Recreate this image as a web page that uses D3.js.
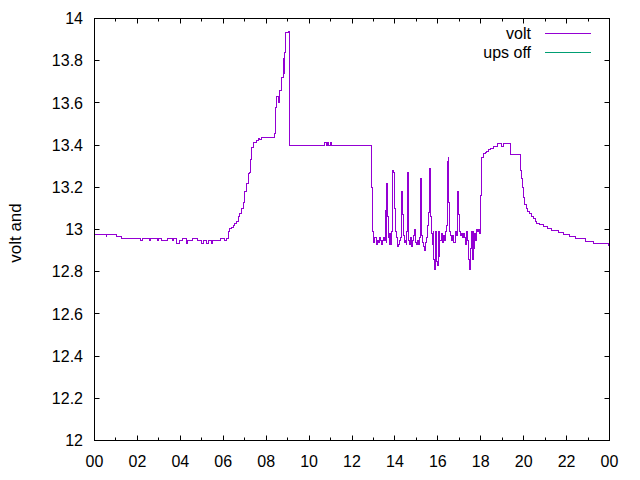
<!DOCTYPE html>
<html>
<head>
<meta charset="utf-8">
<script src="https://cdn.jsdelivr.net/npm/d3@7"></script>
<style>
  body { margin: 0; background: #fff; }
  svg text { font-family: "Liberation Sans", Arial, sans-serif; font-size: 16px; fill: #000; }
</style>
</head>
<body>
<div id="chart"></div>
<script>
// volt series, hour of day vs volts (sampled, held until next sample)
var hours = [
  0, 0.54, 0.58, 1.01, 1.28, 2.13, 2.23, 2.57, 2.61, 2.93, 2.97, 3.14, 3.38, 3.63, 3.69, 3.84, 3.94,
  4.09, 4.28, 4.33, 4.56, 4.78, 4.98, 5.06, 5.21, 5.29, 5.45, 5.52, 5.88, 6.07, 6.15, 6.23, 6.30,
  6.38, 6.46, 6.53, 6.61, 6.69, 6.77, 6.85, 6.93, 7.00, 7.08, 7.16, 7.22, 7.27, 7.32, 7.39, 7.55,
  7.65, 7.70, 7.78, 8.37, 8.44, 8.48, 8.59, 8.64, 8.72, 8.79, 8.84, 8.87, 8.92, 9.03, 9.07,
  10.74, 10.80, 10.86, 10.92, 10.98, 11.05, 12.92, 12.95, 12.98, 13.02, 13.07, 13.12, 13.17, 13.22,
  13.27, 13.31, 13.36, 13.42, 13.47, 13.52, 13.57, 13.60, 13.62, 13.65, 13.70, 13.74, 13.77, 13.81,
  13.85, 13.88, 13.91, 13.95, 13.98, 14.02, 14.06, 14.10, 14.14, 14.18, 14.22, 14.27, 14.32, 14.35,
  14.39, 14.43, 14.47, 14.52, 14.56, 14.58, 14.61, 14.65, 14.70, 14.74, 14.79, 14.83, 14.88, 14.91,
  14.95, 15.00, 15.05, 15.10, 15.15, 15.19, 15.22, 15.26, 15.30, 15.35, 15.40, 15.44, 15.48, 15.53,
  15.56, 15.59, 15.66, 15.70, 15.74, 15.78, 15.82, 15.86, 15.90, 15.94, 15.98, 16.02, 16.06, 16.10,
  16.15, 16.20, 16.25, 16.30, 16.35, 16.40, 16.44, 16.48, 16.52, 16.56, 16.60, 16.65, 16.70, 16.75,
  16.80, 16.85, 16.90, 16.93, 16.97, 17.00, 17.05, 17.10, 17.15, 17.20, 17.25, 17.30, 17.35, 17.40,
  17.44, 17.48, 17.52, 17.56, 17.60, 17.64, 17.68, 17.72, 17.76, 17.80, 17.85, 17.90, 17.95, 18.00,
  18.02, 18.05, 18.13, 18.21, 18.29, 18.37, 18.44, 18.60, 18.76, 18.99, 19.07, 19.38, 19.84, 19.89,
  19.95, 20.00, 20.05, 20.12, 20.20, 20.28, 20.37, 20.47, 20.55, 20.62, 20.75, 20.93, 21.10, 21.32,
  21.60, 21.84, 22.12, 22.43, 22.88, 23.24, 23.97, 24.0
];
var volts = [
  12.975, 12.968, 12.975, 12.967, 12.957, 12.946, 12.957, 12.946, 12.957, 12.946, 12.957, 12.948, 12.957, 12.946, 12.957, 12.935, 12.946,
  12.957, 12.935, 12.946, 12.957, 12.946, 12.935, 12.946, 12.935, 12.946, 12.935, 12.946, 12.957, 12.946, 12.957, 12.99, 13.005,
  13.01, 13.02, 13.03, 13.04, 13.06, 13.075, 13.10, 13.13, 13.18, 13.22, 13.265, 13.27, 13.33, 13.39, 13.41, 13.42,
  13.43, 13.425, 13.435, 13.455, 13.58, 13.63, 13.60, 13.66, 13.72, 13.81, 13.74, 13.84, 13.935, 13.94, 13.40,
  13.41, 13.40, 13.41, 13.40, 13.41, 13.40, 13.20, 12.99, 12.95, 12.94, 12.96, 12.93, 12.95, 12.94,
  12.96, 12.95, 12.93, 12.95, 12.96, 12.95, 13.09, 12.94, 13.22, 13.06, 12.96, 12.93, 12.98, 12.93,
  12.99, 13.23, 13.28, 13.27, 13.10, 12.99, 12.96, 12.95, 12.92, 12.93, 12.95, 12.96, 13.18, 13.07,
  12.97, 12.94, 12.95, 12.93, 12.99, 13.27, 13.03, 12.95, 12.93, 12.96, 12.92, 12.95, 12.97, 13.00,
  12.94, 12.93, 12.95, 12.93, 12.96, 13.24, 13.04, 12.97, 12.94, 12.92, 12.90, 12.94, 12.96, 13.02,
  13.08, 13.29, 13.06, 12.98, 12.93, 12.99, 12.86, 12.81, 12.99, 12.85, 12.83, 12.99, 12.87, 12.95,
  12.98, 12.94, 12.97, 12.95, 12.99, 13.02, 13.32, 13.34, 13.13, 12.99, 12.97, 12.95, 12.97, 12.94,
  12.99, 12.97, 13.01, 13.18, 13.07, 12.99, 12.97, 12.98, 12.96, 12.98, 12.96, 12.93, 12.99, 12.95,
  12.86, 12.81, 12.91, 12.99, 12.86, 12.99, 12.91, 12.98, 12.95, 13.00, 12.99, 13.00, 12.98, 13.16,
  13.33, 13.34, 13.36, 13.365, 13.37, 13.378, 13.385, 13.395, 13.406, 13.395, 13.406, 13.355, 13.28, 13.24,
  13.20, 13.153, 13.118, 13.098, 13.085, 13.074, 13.06, 13.05, 13.04, 13.03, 13.025, 13.016, 13.005, 12.995,
  12.985, 12.975, 12.965, 12.956, 12.943, 12.932, 12.925, 12.925
];
// "ups off" series has no points on this day
var upsOffHours = [];
var upsOffVolts = [];

var seriesNames = ["volt", "ups off"];
var seriesColors = ["#9400d3", "#009e73"];
var xTicks = d3.range(0, 25, 2);
var xTickLabels = ["00", "02", "04", "06", "08", "10", "12", "14", "16", "18", "20", "22", "00"];
var yTicks = [12, 12.2, 12.4, 12.6, 12.8, 13, 13.2, 13.4, 13.6, 13.8, 14];

var W = 640, H = 480;
var plot = { left: 94.5, right: 609.5, top: 18.5, bottom: 440.5 };

var svg = d3.select("#chart").append("svg").attr("width", W).attr("height", H);

var x = d3.scaleLinear().domain([0, 24]).range([plot.left, plot.right]);
var y = d3.scaleLinear().domain([12, 14]).range([plot.bottom, plot.top]);

// ticks on all four sides, like gnuplot mirror ticks
var tickG = svg.append("g").attr("stroke", "#000").attr("stroke-width", 1);
d3.range(0, 25, 1).forEach(function (h) {
  var len = h % 2 === 0 ? 5 : 3;
  var px = Math.round(x(h) - 0.5) + 0.5;
  tickG.append("line").attr("x1", px).attr("x2", px).attr("y1", plot.bottom).attr("y2", plot.bottom - len);
  tickG.append("line").attr("x1", px).attr("x2", px).attr("y1", plot.top).attr("y2", plot.top + len);
});
yTicks.forEach(function (v) {
  var py = Math.round(y(v) - 0.5) + 0.5;
  tickG.append("line").attr("x1", plot.left).attr("x2", plot.left + 5).attr("y1", py).attr("y2", py);
  tickG.append("line").attr("x1", plot.right).attr("x2", plot.right - 5).attr("y1", py).attr("y2", py);
});

// tick labels
svg.selectAll(".ylab").data(yTicks).enter().append("text")
  .attr("class", "ylab")
  .attr("x", 83)
  .attr("y", (d) => y(d))
  .attr("dy", "0.35em")
  .attr("text-anchor", "end")
  .text((d) => d3.format("~g")(d));

svg.selectAll(".xlab").data(xTicks).enter().append("text")
  .attr("class", "xlab")
  .attr("x", (d) => x(d))
  .attr("y", 467)
  .attr("text-anchor", "middle")
  .text((d, i) => xTickLabels[i]);

// y axis title
svg.append("text")
  .attr("transform", "translate(21,233) rotate(-90)")
  .attr("text-anchor", "middle")
  .style("font-size", "17px")
  .text("volt and");

// data lines
svg.append("clipPath").attr("id", "clip").append("rect")
  .attr("x", plot.left).attr("y", plot.top)
  .attr("width", plot.right - plot.left).attr("height", plot.bottom - plot.top);

var line = d3.line()
  .x((d) => x(d[0]))
  .y((d) => y(d[1]))
  .curve(d3.curveStepAfter);

var voltData = hours.map((h, i) => [h, volts[i]]);
var upsData = upsOffHours.map((h, i) => [h, upsOffVolts[i]]);

svg.append("path")
  .datum(voltData)
  .attr("clip-path", "url(#clip)")
  .attr("fill", "none")
  .attr("stroke", seriesColors[0])
  .attr("stroke-width", 1)
  .attr("shape-rendering", "crispEdges")
  .attr("d", line);

if (upsData.length) {
  svg.append("path")
    .datum(upsData)
    .attr("clip-path", "url(#clip)")
    .attr("fill", "none")
    .attr("stroke", seriesColors[1])
    .attr("stroke-width", 1)
    .attr("shape-rendering", "crispEdges")
    .attr("d", line);
}

// border
svg.append("rect")
  .attr("x", plot.left).attr("y", plot.top)
  .attr("width", plot.right - plot.left).attr("height", plot.bottom - plot.top)
  .attr("fill", "none").attr("stroke", "#000").attr("stroke-width", 1);

// legend
seriesNames.forEach(function (name, i) {
  var ly = 33.5 + i * 19;
  svg.append("text")
    .attr("x", 531)
    .attr("y", ly)
    .attr("dy", "0.35em")
    .attr("text-anchor", "end")
    .text(name);
  svg.append("line")
    .attr("x1", 545).attr("x2", 591)
    .attr("y1", ly).attr("y2", ly)
    .attr("stroke", seriesColors[i])
    .attr("stroke-width", 1);
});
</script>
</body>
</html>
